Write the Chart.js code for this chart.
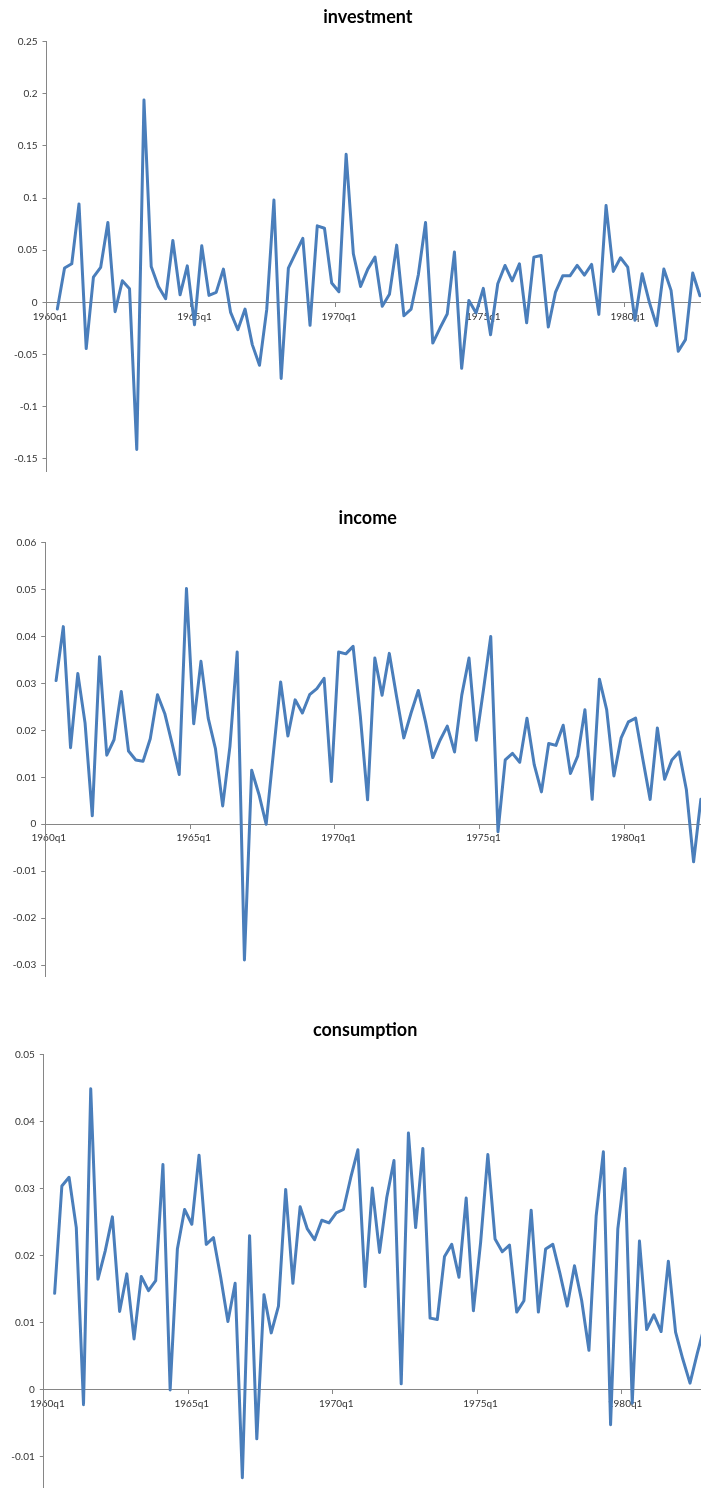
<!DOCTYPE html>
<html>
<head>
<meta charset="utf-8">
<script src="https://cdn.jsdelivr.net/npm/chart.js@4.4.1/dist/chart.umd.min.js"></script>
<style>
  html, body { margin: 0; padding: 0; background: #fff; overflow: hidden; }
  body { width: 701px; height: 1488px; position: relative; }
  .crop { position: absolute; left: 0; width: 701px; overflow: hidden; }
  canvas { display: block; }
</style>
</head>
<body>
<div class="crop" style="top:0px;height:472px;"><canvas id="chartInvestment" width="740" height="522"></canvas></div>
<div class="crop" style="top:501px;height:476px;"><canvas id="chartIncome" width="740" height="522"></canvas></div>
<div class="crop" style="top:1013px;height:475px;"><canvas id="chartConsumption" width="740" height="522"></canvas></div>
<script>
// quarters on the category axis
const years = [1960, 1961, 1962, 1963, 1964, 1965, 1966, 1967, 1968, 1969, 1970, 1971,
               1972, 1973, 1974, 1975, 1976, 1977, 1978, 1979, 1980, 1981, 1982, 1983];
const quarters = ['q1', 'q2', 'q3', 'q4'];
const quarterLabels = years.flatMap(y => quarters.map(q => y + q)).slice(0, 94);

// growth rates (first quarter has no value)
const investment = [null, -0.0064, 0.0329, 0.037, 0.0944, -0.0443, 0.0242, 0.0335, 0.0766, -0.0089,
  0.0207, 0.013, -0.141, 0.194, 0.0345, 0.0153, 0.0035, 0.0593, 0.0073, 0.035,
  -0.0214, 0.0542, 0.0067, 0.0096, 0.0319, -0.0096, -0.0262, -0.0064, -0.0405, -0.0603,
  -0.007, 0.0981, -0.073, 0.0329, 0.0472, 0.0613, -0.022, 0.0734, 0.0711, 0.0185,
  0.0102, 0.142, 0.0466, 0.0153, 0.0319, 0.0434, -0.0038, 0.0077, 0.0549, -0.0128,
  -0.0064, 0.0265, 0.0766, -0.039, -0.0246, -0.0112, 0.0482, -0.0632, 0.0019, -0.0102,
  0.0134, -0.031, 0.0179, 0.0354, 0.0207, 0.037, -0.0195, 0.0434, 0.045, -0.0236,
  0.0099, 0.0255, 0.0255, 0.0354, 0.0262, 0.0364, -0.0115, 0.0928, 0.0297, 0.0428,
  0.0338, -0.0172, 0.0274, 0.0, -0.0223, 0.0319, 0.0115, -0.0469, -0.0357, 0.0281,
  0.0064];

const income = [null, 0.0306, 0.0421, 0.0163, 0.0321, 0.0216, 0.0018, 0.0357, 0.0147, 0.018,
  0.0283, 0.0156, 0.0137, 0.0134, 0.0182, 0.0276, 0.0236, 0.0173, 0.0106, 0.0502,
  0.0214, 0.0347, 0.0226, 0.0161, 0.0039, 0.0166, 0.0367, -0.0289, 0.0115, 0.0064,
  0.0, 0.0152, 0.0303, 0.0188, 0.0265, 0.0237, 0.0276, 0.0289, 0.0311, 0.0091,
  0.0367, 0.0363, 0.0379, 0.023, 0.0052, 0.0354, 0.0275, 0.0364, 0.0272, 0.0184,
  0.0237, 0.0285, 0.0218, 0.0142, 0.0179, 0.0209, 0.0154, 0.0275, 0.0354, 0.0179,
  0.0287, 0.04, -0.0016, 0.0137, 0.0151, 0.0132, 0.0226, 0.0127, 0.0069, 0.0172,
  0.0168, 0.0211, 0.0108, 0.0145, 0.0244, 0.0053, 0.0309, 0.0244, 0.0103, 0.0184,
  0.0218, 0.0226, 0.0138, 0.0053, 0.0205, 0.0096, 0.0137, 0.0154, 0.0074, -0.008,
  0.0053];

const consumption = [null, 0.0144, 0.0304, 0.0317, 0.0242, -0.0022, 0.0449, 0.0165, 0.0207, 0.0258,
  0.0117, 0.0173, 0.0076, 0.0169, 0.0148, 0.0163, 0.0336, 0.0, 0.021, 0.0269,
  0.0247, 0.035, 0.0217, 0.0227, 0.0168, 0.0102, 0.0159, -0.0131, 0.023, -0.0073,
  0.0142, 0.0085, 0.0125, 0.0299, 0.0159, 0.0273, 0.024, 0.0224, 0.0253, 0.0249,
  0.0264, 0.0269, 0.0316, 0.0358, 0.0154, 0.0301, 0.0205, 0.0287, 0.0342, 0.0009,
  0.0383, 0.0242, 0.036, 0.0107, 0.0105, 0.0199, 0.0217, 0.0168, 0.0286, 0.0118,
  0.022, 0.0351, 0.0225, 0.0206, 0.0216, 0.0116, 0.0133, 0.0268, 0.0116, 0.021,
  0.0217, 0.0173, 0.0125, 0.0185, 0.0133, 0.0059, 0.0259, 0.0355, -0.0052, 0.024,
  0.033, -0.002, 0.0222, 0.009, 0.0112, 0.0087, 0.0192, 0.0086, 0.0046, 0.001,
  0.0054, 0.0095];

const lineBlue = '#4A7EBB';
const axisGray = '#868686';
const labelColor = '#333333';

Chart.defaults.font.family = 'Lato, "Open Sans", sans-serif';

function makeChart(id, title, values, yMin, yMax, step, padLeft, padRight) {
    const ctx = document.getElementById(id).getContext('2d');
    new Chart(ctx, {
        type: 'line',
        data: {
            labels: quarterLabels,
            datasets: [{
                label: title,
                data: values,
                borderColor: lineBlue,
                borderWidth: 3,
                pointRadius: 0,
                tension: 0,
                borderJoinStyle: 'round',
                borderCapStyle: 'round'
            }]
        },
        options: {
            responsive: false,
            animation: false,
            events: [],
            layout: { padding: { left: padLeft, right: padRight, top: 0, bottom: 10 } },
            plugins: {
                legend: { display: false },
                tooltip: { enabled: false },
                title: {
                    display: true,
                    text: title,
                    color: '#000',
                    font: { size: 18, weight: 'bold' },
                    padding: { top: 6, bottom: 14 }
                }
            },
            scales: {
                x: {
                    type: 'category',
                    offset: true,
                    position: { y: 0 },
                    afterFit: scale => { scale.height = 0; },
                    grid: {
                        offset: true,
                        drawOnChartArea: false,
                        drawTicks: true,
                        tickLength: 4,
                        tickColor: c => (c.index % 20 === 0 ? axisGray : 'rgba(0,0,0,0)')
                    },
                    border: { display: true, color: axisGray, width: 1 },
                    ticks: {
                        autoSkip: false,
                        maxRotation: 0,
                        minRotation: 0,
                        padding: 4,
                        color: labelColor,
                        font: { size: 10 },
                        callback: function (value, index) {
                            return index % 20 === 0 ? this.getLabelForValue(value) : '';
                        }
                    }
                },
                y: {
                    min: yMin,
                    max: yMax,
                    afterFit: scale => { scale.width = 36; },
                    grid: {
                        drawOnChartArea: false,
                        drawTicks: true,
                        tickLength: 4,
                        tickColor: axisGray
                    },
                    border: { display: true, color: axisGray, width: 1 },
                    ticks: {
                        stepSize: step,
                        padding: 5,
                        color: labelColor,
                        font: { size: 10 },
                        callback: value => parseFloat(value.toFixed(4)).toString()
                    }
                }
            }
        }
    });
}

makeChart('chartInvestment', 'investment', investment, -0.2, 0.25, 0.05, 10.5, 14.8);
makeChart('chartIncome', 'income', income, -0.04, 0.06, 0.01, 9.2, 13.8);
makeChart('chartConsumption', 'consumption', consumption, -0.02, 0.05, 0.01, 7.8, 17.5);
</script>
</body>
</html>
